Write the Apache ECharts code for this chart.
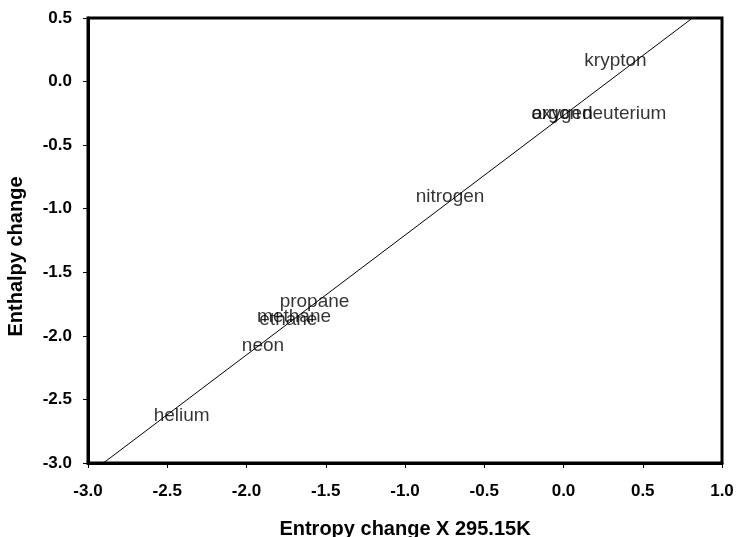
<!DOCTYPE html>
<html>
<head>
<meta charset="utf-8">
<script src="https://cdn.jsdelivr.net/npm/echarts@6/dist/echarts.min.js"></script>
<style>
  html, body { margin: 0; padding: 0; background: #fff; }
  #chart { width: 738px; height: 537px; }
</style>
</head>
<body>
<div id="chart"></div>
<script>
// Gas names and their entropy (x 295.15 K) / enthalpy changes
const gases = ['helium', 'neon', 'ethane', 'methane', 'propane', 'nitrogen', 'argon', 'oxygen', 'deuterium', 'krypton'];
const entropyTS = [-2.409, -1.896, -1.736, -1.700, -1.571, -0.716, -0.049, -0.009, 0.383, 0.328];
const enthalpy = [-2.629, -2.078, -1.876, -1.852, -1.734, -0.906, -0.255, -0.255, -0.255, 0.162];

// Straight-line fit through the points, given by its two ends
const trendX = [-2.903, 0.814];
const trendY = [-3.0, 0.5];

// Axis ticks
const xTicks = [-3.0, -2.5, -2.0, -1.5, -1.0, -0.5, 0.0, 0.5, 1.0];
const yTicks = [-3.0, -2.5, -2.0, -1.5, -1.0, -0.5, 0.0, 0.5];

const points = gases.map((g, i) => ({ name: g, value: [entropyTS[i], enthalpy[i]] }));
const trend = trendX.map((x, i) => [x, trendY[i]]);

const chart = echarts.init(document.getElementById('chart'), null, { renderer: 'canvas' });

const FONT = 'Liberation Sans, Arial, sans-serif';

const axisCommon = {
  type: 'value',
  interval: 0.5,
  splitLine: { show: false },
  axisLine: { show: true, onZero: false, lineStyle: { color: '#000', width: 3 } },
  axisTick: { show: true, inside: false, length: 5, lineStyle: { color: '#000', width: 1 } },
  nameLocation: 'middle'
};

chart.setOption({
  animation: false,
  backgroundColor: '#fff',
  grid: {
    left: 88, right: 16, top: 18, bottom: 74,
    containLabel: false,
    outerBoundsMode: 'none',
    show: true, borderColor: '#000', borderWidth: 3, backgroundColor: 'transparent'
  },
  xAxis: Object.assign({}, axisCommon, {
    min: xTicks[0], max: xTicks[xTicks.length - 1],
    name: 'Entropy change X 295.15K',
    nameGap: 56,
    nameTextStyle: { fontFamily: FONT, fontWeight: 'bold', fontSize: 20, color: '#000' },
    axisLabel: {
      margin: 20,
      fontFamily: FONT, fontWeight: 'bold', fontSize: 17, color: '#000',
      formatter: v => v.toFixed(1)
    }
  }),
  yAxis: Object.assign({}, axisCommon, {
    min: yTicks[0], max: yTicks[yTicks.length - 1],
    name: 'Enthalpy change',
    nameGap: 62,
    nameTextStyle: { fontFamily: FONT, fontWeight: 'bold', fontSize: 20, color: '#000', padding: [0, 32, 0, 0] },
    axisLabel: {
      margin: 16,
      fontFamily: FONT, fontWeight: 'bold', fontSize: 17, color: '#000',
      formatter: v => v.toFixed(1)
    }
  }),
  series: [
    {
      type: 'line',
      data: trend,
      symbol: 'none',
      silent: true,
      lineStyle: { color: '#000', width: 1 },
      z: 3
    },
    {
      type: 'scatter',
      data: points,
      symbolSize: 0,
      label: {
        show: true,
        position: 'inside',
        formatter: p => p.name,
        fontFamily: FONT,
        fontSize: 19,
        color: '#000'
      },
      labelLayout: { hideOverlap: false },
      z: 4
    }
  ]
});
</script>
</body>
</html>
